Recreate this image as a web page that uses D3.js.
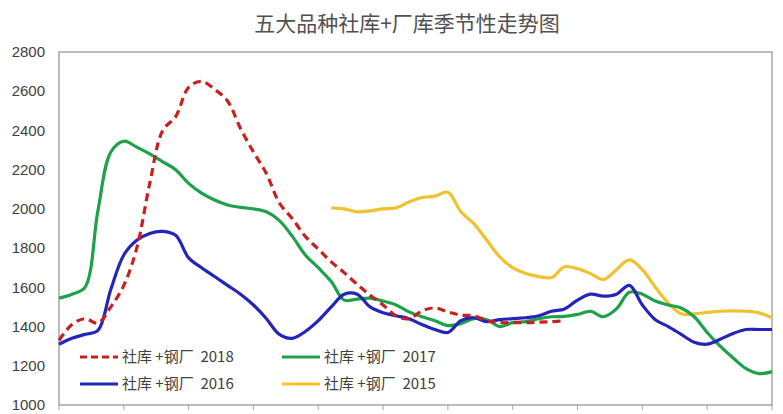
<!DOCTYPE html>
<html>
<head>
<meta charset="utf-8">
<script src="https://cdn.jsdelivr.net/npm/d3@7"></script>
<style>
  body { margin: 0; background: #fff; }
  svg { font-family: "Liberation Sans Narrow", "Liberation Sans", "Noto Sans CJK SC", sans-serif; }
</style>
</head>
<body>
<div id="chart"></div>
<script>
// weekly values, index 0..55
const s2018 = [1330, 1410, 1440, 1418, 1500, 1610, 1800, 2130, 2400, 2470, 2620, 2650, 2610, 2550,
    2410, 2290, 2180, 2030, 1950, 1860, 1795, 1730, 1675, 1615, 1560, 1510, 1455, 1440, 1480, 1495,
    1475, 1458, 1455, 1430, 1420, 1420, 1420, 1422, 1425, 1430];
const s2017 = [1545, 1565, 1600, 1990, 2290, 2345, 2315, 2280, 2240, 2200, 2130, 2080, 2045, 2020,
    2008, 2000, 1985, 1940, 1860, 1765, 1700, 1630, 1535, 1540, 1545, 1530, 1510, 1475, 1450, 1430,
    1405, 1415, 1440, 1435, 1400, 1420, 1425, 1440, 1450, 1452, 1462, 1478, 1450, 1490, 1575, 1565,
    1530, 1510, 1495, 1450, 1370, 1300, 1240, 1185, 1160, 1170];
const s2016 = [1310, 1340, 1360, 1380, 1590, 1765, 1840, 1875, 1885, 1865, 1750, 1700, 1655, 1610,
    1565, 1510, 1440, 1360, 1340, 1375, 1430, 1500, 1565, 1565, 1500, 1470, 1455, 1440, 1410, 1385,
    1370, 1430, 1445, 1425, 1435, 1440, 1445, 1455, 1478, 1490, 1535, 1565, 1555, 1565, 1610, 1510,
    1435, 1400, 1360, 1320, 1310, 1335, 1365, 1385, 1385, 1385];
// 2015 starts at week 21
const start2015 = 21;
const s2015 = [2005, 2000, 1985, 1990, 2000, 2005, 2035, 2058, 2065, 2085, 1985, 1925, 1840, 1755,
    1700, 1670, 1655, 1650, 1705, 1695, 1670, 1640, 1690, 1740, 1690, 1600, 1520, 1465, 1465, 1472,
    1478, 1480, 1478, 1470, 1445];

const yTicks = [1000, 1200, 1400, 1600, 1800, 2000, 2200, 2400, 2600, 2800];
const xTicks = [0, 5, 10, 15, 20, 25, 30, 35, 40, 45, 50, 55];

const series = [
    { name: "社库 +钢厂  2018", values: s2018.map((v, i) => [i, v]), color: "#c8201f", dash: "8,5" },
    { name: "社库 +钢厂  2017", values: s2017.map((v, i) => [i, v]), color: "#1fa14c", dash: null },
    { name: "社库 +钢厂  2016", values: s2016.map((v, i) => [i, v]), color: "#2424b8", dash: null },
    { name: "社库 +钢厂  2015", values: s2015.map((v, i) => [i + start2015, v]), color: "#f2c12e", dash: null },
];

const width = 783;
const height = 414;
const margin = { top: 52, right: 11, bottom: 9, left: 59 };

const svg = d3.select("#chart")
    .append("svg")
    .attr("width", width)
    .attr("height", height);

const x = d3.scaleLinear()
    .domain([0, 55])
    .range([margin.left, width - margin.right]);

const y = d3.scaleLinear()
    .domain([1000, 2800])
    .range([height - margin.bottom, margin.top]);

// title
svg.append("text")
    .attr("x", 407)
    .attr("y", 31)
    .attr("text-anchor", "middle")
    .style("font-family", "'Noto Sans CJK SC', sans-serif")
    .style("font-size", "21px")
    .style("fill", "#505050")
    .text("五大品种社库+厂库季节性走势图");

// plot frame
svg.append("rect")
    .attr("x", x(0))
    .attr("y", y(2800))
    .attr("width", x(55) - x(0))
    .attr("height", y(1000) - y(2800))
    .attr("fill", "none")
    .attr("stroke", "#a6a6a6")
    .attr("stroke-width", 1.5);

// y axis labels
svg.append("g")
    .selectAll("text")
    .data(yTicks)
    .join("text")
    .attr("x", 45)
    .attr("y", d => y(d))
    .attr("dy", "0.35em")
    .attr("text-anchor", "end")
    .style("font-size", "15px")
    .style("fill", "#404040")
    .text(d => d);

// x tick marks
svg.append("g")
    .selectAll("line")
    .data(xTicks)
    .join("line")
    .attr("x1", d => x(d))
    .attr("x2", d => x(d))
    .attr("y1", y(1000))
    .attr("y2", y(1000) + 5)
    .attr("stroke", "#a6a6a6")
    .attr("stroke-width", 1);

const line = d3.line()
    .x(d => x(d[0]))
    .y(d => y(d[1]))
    .curve(d3.curveCatmullRom.alpha(0.5));

// draw in back-to-front order
const drawOrder = [series[3], series[1], series[2], series[0]];
svg.append("g")
    .selectAll("path")
    .data(drawOrder)
    .join("path")
    .attr("d", d => line(d.values))
    .attr("fill", "none")
    .attr("stroke", d => d.color)
    .attr("stroke-width", 3.2)
    .attr("stroke-linejoin", "round")
    .attr("stroke-dasharray", d => d.dash);

// legend
const legend = svg.append("g")
    .selectAll("g")
    .data(series)
    .join("g")
    .attr("transform", (d, i) => `translate(${80 + (i % 2) * 202},${357 + Math.floor(i / 2) * 27})`);

legend.append("line")
    .attr("x1", 0)
    .attr("x2", 38)
    .attr("stroke", d => d.color)
    .attr("stroke-width", 3.2)
    .attr("stroke-dasharray", d => d.dash ? "7,4" : null);

legend.append("text")
    .attr("x", 42)
    .attr("dy", "0.35em")
    .style("font-family", "'Noto Sans CJK SC', sans-serif")
    .style("font-size", "15px")
    .style("white-space", "pre")
    .style("fill", "#404040")
    .text(d => d.name);
</script>
</body>
</html>
